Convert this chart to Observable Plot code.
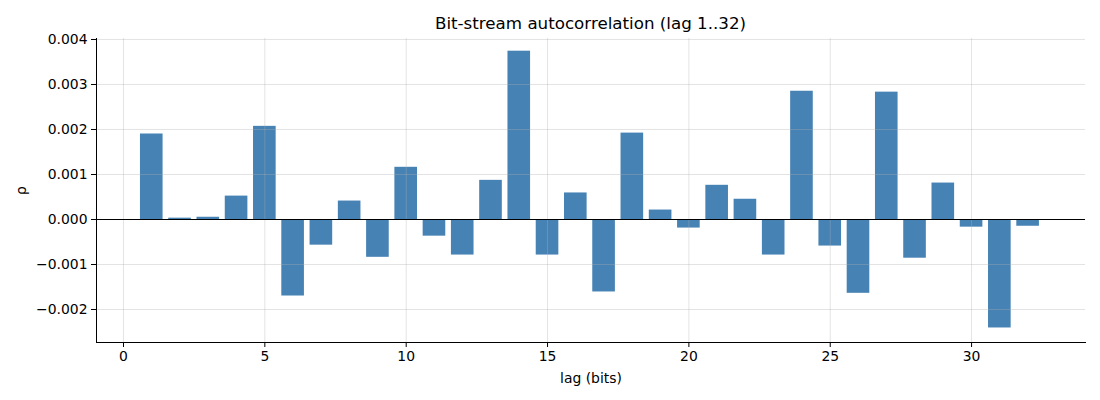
<!DOCTYPE html>
<html><head>
<meta charset="utf-8">
<script src="https://cdn.jsdelivr.net/npm/d3@7"></script>
<script src="https://cdn.jsdelivr.net/npm/@observablehq/plot@0.6"></script>
<style>
body{margin:0;background:#fff;font-family:"DejaVu Sans",sans-serif;}
#title{height:30px;box-sizing:border-box;padding-left:96px;width:1085px;text-align:center;font-size:16.7px;line-height:20px;padding-top:13px;color:#000;}
#title span{display:block;width:989px;}
</style></head><body>
<div id="title"><span>Bit-stream autocorrelation (lag 1..32)</span></div>
<div id="chart"></div>
<script>
const lags = [1,2,3,4,5,6,7,8,9,10,11,12,13,14,15,16,17,18,19,20,21,22,23,24,25,26,27,28,29,30,31,32];
const rho = [0.00190,0.00003,0.00005,0.00052,0.00207,-0.00170,-0.00057,0.00041,-0.00084,0.00116,-0.00037,-0.00079,0.00087,0.00374,-0.00079,0.00059,-0.00161,0.00192,0.00021,-0.00019,0.00076,0.00045,-0.00079,0.00285,-0.00059,-0.00164,0.00283,-0.00086,0.00081,-0.00017,-0.00241,-0.00015];
const xTicks = [0,5,10,15,20,25,30];
const yTicks = [-0.002,-0.001,0,0.001,0.002,0.003,0.004];
const data = lags.map((lag,i)=>({lag, rho: rho[i]}));
const chart = Plot.plot({
  width:1100, height:370, marginTop:8, marginBottom:58, marginLeft:96, marginRight:15,
  style:{fontFamily:"DejaVu Sans", fontSize:"13.9px", color:"#000", background:"#fff", overflow:"visible"},
  x:{domain:[-0.955,34.03]},
  y:{domain:[-0.002733,0.004022]},
  marks:[
    Plot.rect(data,{x1:d=>d.lag-0.4, x2:d=>d.lag+0.4, y1:0, y2:"rho", fill:"#4682b4"}),
    Plot.ruleX(xTicks,{stroke:"#b0b0b0", strokeOpacity:0.35}),
    Plot.ruleY(yTicks,{stroke:"#b0b0b0", strokeOpacity:0.35}),
    Plot.ruleY([0],{stroke:"#000", strokeWidth:1}),
    Plot.axisX({ticks:xTicks, tickSize:5, tickPadding:4, label:"lag (bits)", labelAnchor:"center", labelArrow:"none", labelOffset:40}),
    Plot.axisY({ticks:yTicks, tickFormat:d3.format(".3f"), tickSize:5, tickPadding:4, label:"ρ", labelAnchor:"center", labelArrow:"none", labelOffset:80}),
    Plot.frame({anchor:"left"}),
    Plot.frame({anchor:"bottom"})
  ]
});
document.getElementById("chart").appendChild(chart);
</script>
</body></html>
